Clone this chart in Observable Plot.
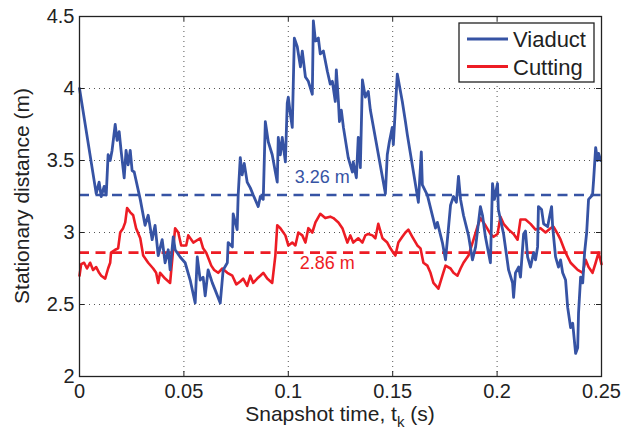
<!DOCTYPE html>
<html>
<head>
<meta charset="utf-8">
<script src="https://cdn.jsdelivr.net/npm/d3@7"></script>
<script src="https://cdn.jsdelivr.net/npm/@observablehq/plot@0.6"></script>
<style>
  html, body { margin: 0; padding: 0; background: #fff; }
  #chart { position: relative; width: 639px; height: 436px; }
  svg { font-family: "Liberation Sans", Arial, Helvetica, sans-serif; }
</style>
</head>
<body>
<div id="chart"></div>
<script>
// Snapshot time (s) and stationary distance (m)
const viaductT = [0.0000,0.0080,0.0094,0.0104,0.0118,0.0128,0.0137,0.0147,0.0156,0.0171,0.0180,0.0190,0.0199,0.0214,0.0223,0.0233,0.0243,0.0252,0.0262,0.0291,0.0314,0.0329,0.0348,0.0362,0.0377,0.0396,0.0410,0.0425,0.0434,0.0449,0.0458,0.0482,0.0506,0.0530,0.0554,0.0564,0.0578,0.0592,0.0602,0.0616,0.0636,0.0650,0.0674,0.0688,0.0708,0.0712,0.0732,0.0736,0.0755,0.0760,0.0770,0.0779,0.0789,0.0803,0.0818,0.0832,0.0856,0.0866,0.0880,0.0890,0.0904,0.0923,0.0938,0.0947,0.0952,0.0962,0.0971,0.0986,0.0995,0.1000,0.1010,0.1019,0.1029,0.1043,0.1058,0.1067,0.1082,0.1096,0.1115,0.1120,0.1130,0.1144,0.1153,0.1168,0.1187,0.1201,0.1211,0.1225,0.1230,0.1240,0.1245,0.1254,0.1264,0.1287,0.1307,0.1311,0.1326,0.1335,0.1345,0.1355,0.1369,0.1383,0.1393,0.1465,0.1474,0.1484,0.1498,0.1503,0.1522,0.1546,0.1561,0.1570,0.1623,0.1637,0.1642,0.1666,0.1705,0.1714,0.1738,0.1753,0.1767,0.1777,0.1791,0.1805,0.1815,0.1825,0.1839,0.1863,0.1882,0.1897,0.1920,0.1930,0.1944,0.1968,0.1978,0.1987,0.2002,0.2006,0.2016,0.2031,0.2055,0.2074,0.2079,0.2088,0.2103,0.2112,0.2127,0.2136,0.2146,0.2160,0.2175,0.2184,0.2194,0.2198,0.2213,0.2223,0.2242,0.2251,0.2261,0.2266,0.2280,0.2294,0.2304,0.2314,0.2328,0.2338,0.2352,0.2362,0.2376,0.2386,0.2390,0.2400,0.2410,0.2419,0.2429,0.2438,0.2457,0.2462,0.2472,0.2481,0.2486,0.2496];
const viaductY = [4.00,3.27,3.35,3.25,3.32,3.26,3.54,3.50,3.57,3.75,3.64,3.70,3.57,3.38,3.57,3.47,3.57,3.43,3.42,3.23,3.05,3.12,2.95,3.05,2.84,2.95,2.79,2.88,2.74,2.97,2.88,2.83,2.79,2.67,2.51,2.83,2.67,2.69,2.56,2.74,2.65,2.60,2.51,2.74,2.79,2.93,2.90,3.13,3.02,3.26,3.52,3.40,3.48,3.35,3.31,3.26,3.18,3.25,3.23,3.77,3.63,3.54,3.42,3.35,3.66,3.54,3.66,3.49,3.90,3.94,3.82,3.73,4.35,4.29,4.15,4.26,4.08,4.05,3.96,4.47,4.33,4.35,4.24,4.26,4.12,4.03,4.05,3.91,4.13,3.91,3.77,3.85,3.73,3.52,3.42,3.49,3.38,3.66,3.45,4.06,3.94,3.98,3.85,3.27,3.54,3.63,3.73,3.61,4.10,3.91,3.77,3.68,3.21,3.56,3.33,3.26,3.03,3.07,2.93,2.81,3.03,3.19,3.25,3.21,3.39,3.23,3.12,2.98,2.81,2.90,3.18,3.12,2.97,2.79,3.34,3.23,3.34,3.16,3.09,2.99,2.74,2.65,2.55,2.72,2.76,2.69,2.99,3.01,2.83,2.76,2.86,2.81,2.90,3.18,3.16,3.06,3.04,3.11,3.18,3.04,2.83,2.76,2.81,2.72,2.67,2.48,2.34,2.37,2.16,2.20,2.44,2.69,2.65,2.86,3.00,3.23,3.26,3.36,3.59,3.50,3.55,3.50];

const cuttingT = [0.0000,0.0008,0.0022,0.0036,0.0051,0.0065,0.0080,0.0094,0.0104,0.0123,0.0137,0.0147,0.0151,0.0171,0.0185,0.0195,0.0209,0.0219,0.0228,0.0243,0.0257,0.0271,0.0291,0.0305,0.0329,0.0353,0.0367,0.0377,0.0386,0.0410,0.0434,0.0449,0.0458,0.0473,0.0487,0.0511,0.0521,0.0545,0.0578,0.0592,0.0607,0.0631,0.0645,0.0664,0.0684,0.0708,0.0732,0.0751,0.0770,0.0784,0.0803,0.0818,0.0832,0.0851,0.0866,0.0880,0.0899,0.0923,0.0938,0.0947,0.0962,0.0986,0.1000,0.1019,0.1034,0.1048,0.1067,0.1082,0.1096,0.1115,0.1130,0.1153,0.1177,0.1201,0.1216,0.1240,0.1259,0.1283,0.1297,0.1311,0.1335,0.1355,0.1369,0.1383,0.1403,0.1417,0.1431,0.1451,0.1474,0.1489,0.1503,0.1513,0.1527,0.1546,0.1561,0.1575,0.1594,0.1618,0.1633,0.1647,0.1666,0.1681,0.1695,0.1719,0.1738,0.1753,0.1777,0.1791,0.1810,0.1825,0.1839,0.1863,0.1887,0.1906,0.1920,0.1944,0.1968,0.1983,0.2002,0.2016,0.2031,0.2055,0.2079,0.2098,0.2112,0.2136,0.2160,0.2184,0.2208,0.2232,0.2256,0.2270,0.2290,0.2304,0.2328,0.2352,0.2386,0.2410,0.2424,0.2438,0.2457,0.2472,0.2486,0.2500];
const cuttingY = [2.70,2.78,2.79,2.75,2.79,2.74,2.76,2.72,2.70,2.68,2.75,2.79,2.86,2.88,2.89,3.00,3.03,3.07,3.17,3.14,3.12,3.03,2.96,2.84,2.79,2.75,2.72,2.65,2.72,2.68,2.65,2.89,3.03,3.00,2.91,2.91,2.98,2.93,2.96,2.89,2.86,2.77,2.74,2.72,2.75,2.72,2.70,2.64,2.66,2.68,2.63,2.70,2.65,2.68,2.70,2.72,2.68,2.65,2.84,3.05,3.03,2.98,2.91,2.93,2.91,3.00,2.98,2.93,3.03,3.00,3.07,3.13,3.10,3.11,3.10,3.07,3.03,2.93,2.98,2.93,2.96,2.93,2.98,2.99,2.98,2.96,3.06,2.96,2.93,2.89,2.86,2.84,2.93,2.97,3.00,3.02,2.97,2.91,2.89,2.79,2.77,2.72,2.65,2.61,2.70,2.77,2.75,2.72,2.70,2.75,2.79,2.84,2.95,3.04,3.10,3.05,2.99,2.97,2.99,3.11,3.06,3.02,2.99,2.95,3.09,3.09,3.06,3.02,3.03,3.00,3.03,3.04,2.99,2.95,2.86,2.79,2.74,2.72,2.81,2.76,2.72,2.79,2.86,2.78];

const meanLabels = ["3.26 m", "2.86 m"];
const meanValues = [3.26, 2.86];
const meanLabelT = [0.1163, 0.1187];
const meanLabelY = [3.385, 2.79];

const seriesNames = ["Viaduct", "Cutting"];
const seriesColors = ["#3653a4", "#ed1c24"];

const xTicks = [0, 0.05, 0.1, 0.15, 0.2, 0.25];
const yTicks = [2, 2.5, 3, 3.5, 4, 4.5];
const xTickLabels = ["0", "0.05", "0.1", "0.15", "0.2", "0.25"];
const yTickLabels = ["2", "2.5", "3", "3.5", "4", "4.5"];

const viaduct = viaductT.map((t, i) => ({t, d: viaductY[i]}));
const cutting = cuttingT.map((t, i) => ({t, d: cuttingY[i]}));
const means = meanValues.map((v, i) => ({v, color: seriesColors[i], label: meanLabels[i], t: meanLabelT[i], y: meanLabelY[i]}));

const W = 639, H = 436, mL = 79, mR = 38, mT = 16, mB = 60;
const pw = W - mL - mR, ph = H - mT - mB, tk = 5;

const chart = Plot.plot({
  width: W, height: H,
  marginLeft: mL, marginRight: mR, marginTop: mT, marginBottom: mB,
  style: {fontFamily: '"Liberation Sans", Arial, Helvetica, sans-serif', background: "#fff"},
  x: {domain: [0, 0.25]},
  y: {domain: [2, 4.5]},
  marks: [
    Plot.gridX(xTicks.slice(1, -1), {stroke: "#555", strokeOpacity: 1, strokeWidth: 1, strokeDasharray: "1,4"}),
    Plot.gridY(yTicks.slice(1, -1), {stroke: "#555", strokeOpacity: 1, strokeWidth: 1, strokeDasharray: "1,4"}),
    Plot.ruleY(means, {y: "v", stroke: "color", strokeWidth: 2.6, strokeDasharray: "10,6.5"}),
    Plot.line(cutting, {x: "t", y: "d", stroke: seriesColors[1], strokeWidth: 2.6, strokeLinejoin: "round"}),
    Plot.line(viaduct, {x: "t", y: "d", stroke: seriesColors[0], strokeWidth: 2.8, strokeLinejoin: "round"}),
    Plot.text(means, {x: "t", y: "y", text: "label", fill: "color", fontSize: 18}),
    // inward ticks on all four sides
    Plot.ruleX(xTicks, {x: d => d, insetTop: ph - tk, stroke: "#222", strokeWidth: 1}),
    Plot.ruleX(xTicks, {x: d => d, insetBottom: ph - tk, stroke: "#222", strokeWidth: 1}),
    Plot.ruleY(yTicks, {y: d => d, insetRight: pw - tk, stroke: "#222", strokeWidth: 1}),
    Plot.ruleY(yTicks, {y: d => d, insetLeft: pw - tk, stroke: "#222", strokeWidth: 1}),
    Plot.axisX(xTicks, {tickSize: 0, tickPadding: 7, fontSize: 20, fill: "#222", label: null, tickFormat: (d, i) => xTickLabels[i]}),
    Plot.axisY(yTicks, {tickSize: 0, tickPadding: 5, fontSize: 20, fill: "#222", label: null, tickFormat: (d, i) => yTickLabels[i]}),
    Plot.frame({stroke: "#222", strokeWidth: 1.3})
  ]
});

document.getElementById("chart").appendChild(chart);

const svg = d3.select(chart);
// axis titles
const xt = svg.append("text")
  .attr("x", mL + pw / 2).attr("y", 421)
  .attr("text-anchor", "middle").attr("font-size", 21).attr("fill", "#222");
xt.append("tspan").text("Snapshot time, t");
xt.append("tspan").attr("font-size", 15).attr("dy", 6).text("k");
xt.append("tspan").attr("dy", -6).text(" (s)");

svg.append("text")
  .attr("transform", `translate(29,${mT + ph / 2}) rotate(-90)`)
  .attr("text-anchor", "middle").attr("font-size", 21).attr("fill", "#222")
  .text("Stationary distance (m)");

// legend
const lg = svg.append("g");
lg.append("rect").attr("x", 459).attr("y", 23).attr("width", 135).attr("height", 59)
  .attr("fill", "#fff").attr("stroke", "#222").attr("stroke-width", 1.3);
seriesNames.forEach((name, i) => {
  const cy = 39 + i * 27.5;
  lg.append("line").attr("x1", 467).attr("x2", 508).attr("y1", cy).attr("y2", cy)
    .attr("stroke", seriesColors[i]).attr("stroke-width", 2.8);
  lg.append("text").attr("x", 513).attr("y", cy + 8).attr("text-anchor", "start")
    .attr("font-size", 22).attr("fill", "#222").text(name);
});
</script>
</body>
</html>
